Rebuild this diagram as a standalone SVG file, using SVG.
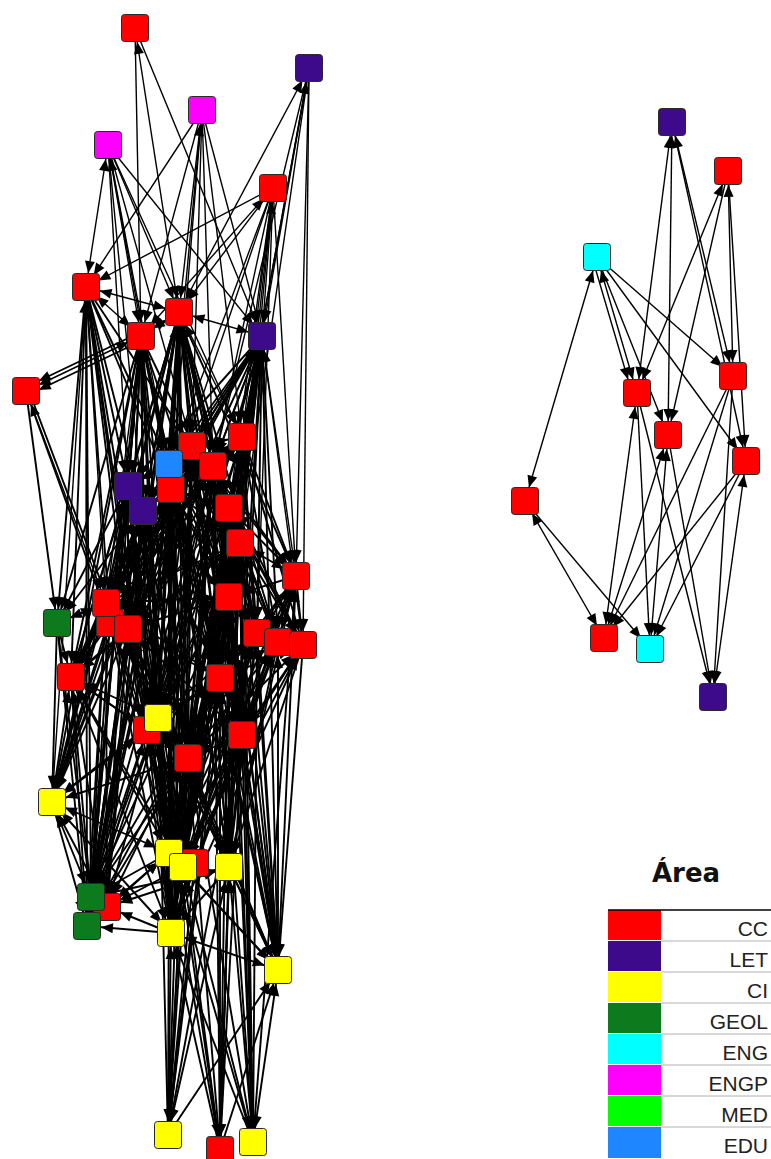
<svg xmlns="http://www.w3.org/2000/svg" xmlns:xlink="http://www.w3.org/1999/xlink" width="771" height="1159" viewBox="0 0 771 1159">
<style>
.cc{fill:#ff0000}.let{fill:#3c0a8a}.ci{fill:#ffff00}.geol{fill:#0e7a1e}.eng{fill:#00ffff}.engp{fill:#ff00ff}.med{fill:#00ff00}.edu{fill:#1e86ff}
#connectors{fill:none;stroke:#000;stroke-width:1.4}
#connectors .core{stroke-width:1.9}
.both path{marker-start:url(#ah);marker-end:url(#ah)}
.one path{marker-end:url(#ah)}
.lbl{font-family:"Liberation Sans",Arial,sans-serif;font-size:21px;fill:#222;text-anchor:end}
</style>
<defs>
<marker id="ah" viewBox="0 -6 28 12" refX="28" refY="0" markerWidth="28" markerHeight="12" markerUnits="userSpaceOnUse" orient="auto-start-reverse"><path d="M2,-5L14,0L2,5Z" fill="#000" stroke="none"/></marker>
<rect id="sq" width="27" height="27" rx="3" stroke="#2a2a2a" stroke-width="1"/>
</defs>
<rect width="771" height="1159" fill="#fff"/>
<g id="connectors">
<g class="both">
<path d="M135 28L179 312"/><path d="M309 68L179 312"/><path d="M309 68L262 336"/><path d="M202 110L179 312"/>
<path d="M108 145L86 287"/><path d="M108 145L141 336"/><path d="M273 188L262 336"/><path d="M273 188L141 336"/>
<path d="M86 287L141 336"/><path d="M86 287L106 603"/><path d="M86 287L52 802"/><path d="M86 287L179 312"/>
<path d="M179 312L262 336"/><path d="M179 312L141 336"/><path d="M179 312L192 446"/><path d="M179 312L169 853"/>
<path d="M179 312L242 437"/><path d="M141 336L26 391"/><path d="M141 336L106 603"/><path d="M262 336L242 437"/>
<path d="M262 336L229 508"/><path d="M262 336L296 576"/><path d="M262 336L303 645"/><path d="M26 391L106 603"/>
<path d="M597 257L525 501"/><path d="M597 257L637 393"/><path d="M672 122L637 393"/><path d="M672 122L668 435"/>
<path d="M672 122L733 376"/><path d="M728 171L637 393"/><path d="M728 171L733 376"/><path d="M637 393L604 638"/>
<path d="M668 435L604 638"/><path d="M668 435L650 649"/><path d="M746 461L713 697"/><path d="M525 501L604 638"/>
</g>
<g class="both core">
<path d="M192 446L128 629"/><path d="M192 446L169 853"/><path d="M242 437L229 597"/><path d="M242 437L278 970"/>
<path d="M169 464L147 730"/><path d="M169 464L91 897"/><path d="M213 466L220 678"/><path d="M213 466L229 867"/>
<path d="M128 486L71 677"/><path d="M128 486L52 802"/><path d="M171 489L188 758"/><path d="M171 489L171 933"/>
<path d="M143 511L71 677"/><path d="M229 508L242 735"/><path d="M229 508L229 867"/><path d="M240 543L278 642"/>
<path d="M240 543L183 867"/><path d="M296 576L278 970"/><path d="M296 576L242 735"/><path d="M106 603L91 897"/>
<path d="M106 603L57 623"/><path d="M128 629L169 853"/><path d="M128 629L87 926"/><path d="M229 597L229 867"/>
<path d="M229 597L188 758"/><path d="M257 633L278 970"/><path d="M278 642L278 970"/><path d="M71 677L52 802"/>
<path d="M220 678L171 933"/><path d="M220 678L229 867"/><path d="M158 718L171 933"/><path d="M242 735L229 867"/>
<path d="M52 802L91 897"/><path d="M171 933L278 970"/><path d="M168 1135L171 933"/><path d="M220 1150L229 867"/>
<path d="M253 1142L278 970"/><path d="M253 1142L183 867"/>
<path d="M242 437L169 853"/><path d="M242 437L183 867"/><path d="M242 437L171 933"/><path d="M242 437L128 629"/>
<path d="M242 437L106 603"/><path d="M242 437L158 718"/><path d="M242 437L147 730"/><path d="M245 437L232 597"/>
<path d="M242 437L171 489"/><path d="M242 437L143 511"/>
<path d="M192 446L242 735"/><path d="M192 446L229 867"/><path d="M192 446L278 970"/><path d="M192 446L257 633"/>
<path d="M192 446L278 642"/><path d="M192 446L303 645"/><path d="M192 446L296 576"/><path d="M192 446L229 508"/>
<path d="M192 446L52 802"/><path d="M192 446L91 897"/><path d="M192 446L87 926"/><path d="M192 446L147 730"/>
<path d="M169 464L220 678"/><path d="M169 464L242 735"/><path d="M169 464L229 867"/><path d="M169 464L171 933"/>
<path d="M169 464L278 970"/><path d="M169 464L229 597"/><path d="M169 464L240 543"/><path d="M169 464L257 633"/>
<path d="M169 464L52 802"/><path d="M169 464L87 926"/><path d="M169 464L158 718"/>
<path d="M213 466L296 576"/><path d="M213 466L303 645"/><path d="M213 466L188 758"/><path d="M213 466L183 867"/>
<path d="M213 466L278 970"/><path d="M213 466L128 629"/><path d="M213 466L106 603"/><path d="M213 466L158 718"/>
<path d="M213 466L147 730"/><path d="M213 466L71 677"/><path d="M213 466L91 897"/>
<path d="M128 486L169 853"/><path d="M128 486L183 867"/><path d="M128 486L171 933"/><path d="M128 486L147 730"/>
<path d="M128 486L188 758"/><path d="M128 486L220 678"/><path d="M128 486L229 597"/><path d="M128 486L110 623"/>
<path d="M171 489L240 543"/><path d="M171 489L242 735"/><path d="M171 489L229 867"/><path d="M171 489L278 970"/>
<path d="M171 489L106 603"/><path d="M171 489L71 677"/><path d="M171 489L52 802"/><path d="M171 489L91 897"/>
<path d="M171 489L87 926"/><path d="M171 489L158 718"/><path d="M171 489L229 508"/>
<path d="M143 511L220 678"/><path d="M143 511L188 758"/><path d="M143 511L169 853"/><path d="M143 511L171 933"/>
<path d="M143 511L229 597"/><path d="M143 511L147 730"/><path d="M143 511L87 926"/><path d="M143 511L57 623"/>
<path d="M146 511L74 677"/>
<path d="M229 508L169 853"/><path d="M229 508L183 867"/><path d="M229 508L171 933"/><path d="M229 508L303 645"/>
<path d="M229 508L106 603"/><path d="M229 508L128 629"/><path d="M229 508L158 718"/><path d="M229 508L147 730"/>
<path d="M240 543L188 758"/><path d="M240 543L169 853"/><path d="M240 543L171 933"/><path d="M240 543L128 629"/>
<path d="M240 543L158 718"/><path d="M240 543L147 730"/><path d="M240 543L71 677"/><path d="M240 543L296 576"/>
<path d="M296 576L188 758"/><path d="M296 576L169 853"/><path d="M296 576L183 867"/><path d="M296 576L171 933"/>
<path d="M299 576L245 735"/>
<path d="M106 603L220 678"/><path d="M106 603L188 758"/><path d="M106 603L183 867"/><path d="M106 603L147 730"/>
<path d="M106 603L107 907"/><path d="M106 603L229 597"/>
<path d="M128 629L147 730"/><path d="M128 629L229 867"/><path d="M128 629L278 970"/><path d="M128 629L107 907"/>
<path d="M128 629L229 597"/><path d="M128 629L242 735"/>
<path d="M229 597L158 718"/><path d="M229 597L147 730"/><path d="M229 597L171 933"/><path d="M229 597L91 897"/>
<path d="M232 597L232 867"/>
<path d="M257 633L188 758"/><path d="M257 633L169 853"/><path d="M257 633L183 867"/><path d="M257 633L171 933"/>
<path d="M257 633L158 718"/>
<path d="M278 642L220 678"/><path d="M278 642L188 758"/><path d="M278 642L169 853"/><path d="M278 642L183 867"/>
<path d="M278 642L171 933"/>
<path d="M303 645L220 678"/><path d="M303 645L188 758"/><path d="M303 645L183 867"/><path d="M303 645L171 933"/>
<path d="M303 645L169 853"/>
<path d="M71 677L147 730"/><path d="M71 677L158 718"/><path d="M71 677L188 758"/><path d="M71 677L183 867"/>
<path d="M71 677L107 907"/>
<path d="M220 678L158 718"/><path d="M220 678L147 730"/><path d="M220 678L91 897"/><path d="M220 678L87 926"/>
<path d="M220 678L107 907"/>
<path d="M147 730L87 926"/><path d="M147 730L171 933"/><path d="M147 730L183 867"/><path d="M147 730L52 802"/>
<path d="M158 718L87 926"/><path d="M158 718L107 907"/><path d="M158 718L229 867"/><path d="M158 718L278 970"/>
<path d="M242 735L169 853"/><path d="M242 735L171 933"/><path d="M242 735L188 758"/>
<path d="M188 758L91 897"/><path d="M188 758L87 926"/><path d="M188 758L278 970"/><path d="M188 758L52 802"/>
<path d="M52 802L107 907"/><path d="M52 802L169 853"/><path d="M52 802L171 933"/>
<path d="M169 853L87 926"/><path d="M169 853L107 907"/><path d="M229 867L107 907"/><path d="M229 867L91 897"/>
<path d="M168 1135L229 867"/><path d="M168 1135L242 735"/><path d="M168 1135L240 543"/><path d="M220 1150L242 735"/>
<path d="M220 1150L158 718"/><path d="M220 1150L213 466"/><path d="M253 1142L188 758"/><path d="M253 1142L229 508"/>
<path d="M253 1142L242 437"/>
<path d="M179 312L171 489"/><path d="M179 312L213 466"/><path d="M179 312L229 508"/><path d="M179 312L143 511"/>
<path d="M262 336L192 446"/><path d="M262 336L213 466"/><path d="M262 336L240 543"/><path d="M262 336L229 597"/>
<path d="M141 336L169 464"/><path d="M141 336L128 486"/><path d="M141 336L143 511"/><path d="M141 336L128 629"/>
</g>
<g class="one">
<path d="M135 28L262 336"/><path d="M202 110L192 446"/><path d="M202 110L86 287"/><path d="M202 110L262 336"/>
<path d="M202 110L213 466"/><path d="M108 145L179 312"/><path d="M108 145L262 336"/><path d="M108 145L242 437"/>
<path d="M108 145L192 446"/><path d="M273 188L86 287"/><path d="M273 188L242 437"/><path d="M273 188L213 466"/>
<path d="M273 188L169 464"/><path d="M273 188L229 508"/><path d="M273 188L179 312"/><path d="M309 68L242 437"/>
<path d="M309 68L296 576"/>
<path d="M273 188L240 543"/><path d="M273 188L296 576"/><path d="M273 188L229 597"/><path d="M273 188L171 489"/>
<path d="M273 188L257 633"/><path d="M309 68L213 466"/><path d="M309 68L229 508"/><path d="M309 68L240 543"/>
<path d="M309 68L303 645"/><path d="M202 110L242 437"/><path d="M202 110L171 489"/><path d="M202 110L169 464"/>
<path d="M202 110L141 336"/><path d="M108 145L169 464"/><path d="M108 145L171 489"/><path d="M108 145L128 486"/>
<path d="M108 145L143 511"/><path d="M135 28L141 336"/>
<path d="M672 122L746 461"/><path d="M728 171L668 435"/><path d="M728 171L746 461"/><path d="M597 257L668 435"/>
<path d="M597 257L733 376"/><path d="M597 257L746 461"/><path d="M592 257L632 393"/><path d="M637 393L650 649"/>
<path d="M637 393L713 697"/><path d="M733 376L604 638"/><path d="M733 376L650 649"/><path d="M733 376L713 697"/>
<path d="M668 435L713 697"/><path d="M746 461L604 638"/><path d="M746 461L650 649"/><path d="M525 501L650 649"/>
</g>
<g class="one core">
<path d="M86 287L57 623"/><path d="M86 287L71 677"/><path d="M86 287L128 486"/><path d="M86 287L128 629"/>
<path d="M86 287L91 897"/><path d="M86 287L143 511"/>
<path d="M86 287L110 623"/><path d="M86 287L87 926"/><path d="M86 287L169 853"/><path d="M86 287L147 730"/>
<path d="M86 287L158 718"/><path d="M86 287L169 464"/><path d="M86 287L171 489"/><path d="M86 287L192 446"/>
<path d="M179 312L169 464"/><path d="M179 312L213 466"/><path d="M179 312L171 489"/><path d="M179 312L229 508"/>
<path d="M179 312L229 597"/><path d="M179 312L220 678"/><path d="M179 312L158 718"/><path d="M179 312L240 543"/>
<path d="M179 312L188 758"/><path d="M179 312L171 933"/><path d="M179 312L106 603"/><path d="M179 312L128 629"/>
<path d="M179 312L143 511"/><path d="M179 312L128 486"/><path d="M179 312L147 730"/><path d="M179 312L183 867"/>
<path d="M179 312L229 867"/><path d="M179 312L242 735"/><path d="M179 312L71 677"/><path d="M179 312L257 633"/>
<path d="M179 312L91 897"/><path d="M179 312L52 802"/><path d="M179 312L278 970"/><path d="M179 312L296 576"/>
<path d="M179 312L278 642"/>
<path d="M141 341L26 396"/><path d="M141 332L26 387"/><path d="M29 391L109 603"/>
<path d="M141 336L128 486"/><path d="M141 336L128 629"/><path d="M141 336L71 677"/>
<path d="M141 336L143 511"/><path d="M141 336L52 802"/><path d="M141 336L147 730"/><path d="M141 336L91 897"/>
<path d="M141 336L87 926"/><path d="M141 336L169 464"/><path d="M141 336L171 489"/><path d="M141 336L57 623"/>
<path d="M141 336L158 718"/><path d="M141 336L169 853"/><path d="M141 336L188 758"/><path d="M141 336L110 623"/>
<path d="M141 336L183 867"/><path d="M141 336L171 933"/><path d="M141 336L220 678"/><path d="M141 336L229 597"/>
<path d="M141 336L240 543"/>
<path d="M262 336L213 466"/><path d="M262 336L240 543"/><path d="M262 336L229 597"/><path d="M262 336L257 633"/>
<path d="M262 336L278 642"/><path d="M262 336L242 735"/><path d="M262 336L229 867"/><path d="M262 336L278 970"/>
<path d="M262 336L171 489"/><path d="M262 336L192 446"/><path d="M262 336L220 678"/><path d="M262 336L169 464"/>
<path d="M262 336L188 758"/><path d="M262 336L169 853"/><path d="M262 336L183 867"/><path d="M262 336L171 933"/>
<path d="M262 336L106 603"/><path d="M262 336L128 629"/><path d="M262 336L158 718"/><path d="M262 336L147 730"/>
<path d="M262 336L143 511"/><path d="M262 336L128 486"/><path d="M262 336L71 677"/>
<path d="M26 391L110 623"/><path d="M26 391L57 623"/>
<path d="M192 446L171 489"/><path d="M192 446L220 678"/><path d="M192 446L188 758"/><path d="M192 446L183 867"/>
<path d="M192 446L106 603"/><path d="M192 446L71 677"/><path d="M192 446L171 933"/><path d="M192 446L242 437"/>
<path d="M192 446L229 597"/><path d="M192 446L240 543"/><path d="M192 446L158 718"/>
<path d="M242 437L229 508"/><path d="M242 437L296 576"/><path d="M242 437L257 633"/><path d="M242 437L303 645"/>
<path d="M242 437L242 735"/><path d="M242 437L229 867"/><path d="M242 437L220 678"/><path d="M242 437L213 466"/>
<path d="M242 437L240 543"/><path d="M242 437L278 642"/><path d="M242 437L188 758"/>
<path d="M169 464L143 511"/><path d="M169 464L128 629"/><path d="M169 464L188 758"/><path d="M169 464L183 867"/>
<path d="M169 464L71 677"/><path d="M169 464L128 486"/><path d="M169 464L106 603"/><path d="M169 464L169 853"/>
<path d="M213 466L240 543"/><path d="M213 466L229 597"/><path d="M213 466L278 642"/><path d="M213 466L169 853"/>
<path d="M213 466L171 933"/><path d="M213 466L110 623"/><path d="M213 466L229 508"/><path d="M213 466L171 489"/>
<path d="M213 466L257 633"/><path d="M213 466L242 735"/>
<path d="M128 486L106 603"/><path d="M128 486L57 623"/><path d="M128 486L91 897"/><path d="M128 486L87 926"/>
<path d="M128 486L158 718"/><path d="M128 486L128 629"/><path d="M128 486L107 907"/>
<path d="M171 489L128 629"/><path d="M171 489L147 730"/><path d="M171 489L169 853"/><path d="M171 489L220 678"/>
<path d="M171 489L257 633"/><path d="M171 489L143 511"/><path d="M171 489L229 597"/><path d="M171 489L183 867"/>
<path d="M143 511L110 623"/><path d="M143 511L52 802"/><path d="M143 511L107 907"/><path d="M143 511L158 718"/>
<path d="M143 511L183 867"/><path d="M143 511L106 603"/><path d="M143 511L128 629"/><path d="M143 511L91 897"/>
<path d="M229 508L229 597"/><path d="M229 508L257 633"/><path d="M229 508L220 678"/><path d="M229 508L278 970"/>
<path d="M229 508L188 758"/><path d="M229 508L240 543"/><path d="M229 508L296 576"/><path d="M229 508L278 642"/>
<path d="M240 543L257 633"/><path d="M240 543L220 678"/><path d="M240 543L242 735"/><path d="M240 543L278 970"/>
<path d="M240 543L106 603"/><path d="M240 543L229 597"/><path d="M240 543L303 645"/><path d="M240 543L229 867"/>
<path d="M296 576L278 642"/><path d="M296 576L303 645"/><path d="M296 576L229 867"/><path d="M296 576L229 597"/>
<path d="M296 576L257 633"/><path d="M296 576L220 678"/>
<path d="M106 603L71 677"/><path d="M106 603L52 802"/><path d="M106 603L87 926"/><path d="M106 603L169 853"/>
<path d="M106 603L171 933"/><path d="M106 603L128 629"/><path d="M106 603L158 718"/>
<path d="M110 623L52 802"/><path d="M110 623L91 897"/><path d="M110 623L71 677"/>
<path d="M128 629L71 677"/><path d="M128 629L158 718"/><path d="M128 629L91 897"/><path d="M128 629L171 933"/>
<path d="M128 629L220 678"/><path d="M128 629L52 802"/><path d="M128 629L188 758"/><path d="M128 629L183 867"/>
<path d="M229 597L220 678"/><path d="M229 597L242 735"/><path d="M229 597L278 970"/><path d="M229 597L169 853"/>
<path d="M229 597L257 633"/><path d="M229 597L183 867"/>
<path d="M57 623L71 677"/><path d="M57 623L52 802"/><path d="M57 623L91 897"/><path d="M57 623L87 926"/>
<path d="M257 633L242 735"/><path d="M257 633L229 867"/><path d="M257 633L220 678"/>
<path d="M278 642L242 735"/><path d="M278 642L229 867"/>
<path d="M303 645L278 970"/><path d="M303 645L242 735"/><path d="M303 645L229 867"/>
<path d="M71 677L91 897"/><path d="M71 677L87 926"/><path d="M71 677L169 853"/><path d="M71 677L171 933"/>
<path d="M220 678L188 758"/><path d="M220 678L183 867"/><path d="M220 678L278 970"/><path d="M220 678L242 735"/>
<path d="M220 678L169 853"/>
<path d="M147 730L91 897"/><path d="M147 730L169 853"/>
<path d="M158 718L169 853"/><path d="M158 718L91 897"/><path d="M158 718L52 802"/><path d="M158 718L188 758"/>
<path d="M158 718L183 867"/>
<path d="M242 735L278 970"/><path d="M242 735L183 867"/>
<path d="M188 758L183 867"/><path d="M188 758L171 933"/><path d="M188 758L229 867"/><path d="M188 758L169 853"/>
<path d="M52 802L87 926"/>
<path d="M169 853L91 897"/><path d="M169 853L278 970"/><path d="M169 853L171 933"/>
<path d="M183 867L107 907"/><path d="M183 867L278 970"/><path d="M183 867L171 933"/>
<path d="M229 867L278 970"/><path d="M229 867L171 933"/>
<path d="M171 933L87 926"/><path d="M171 933L107 907"/>
<path d="M168 1135L169 853"/><path d="M168 1135L183 867"/><path d="M168 1135L220 678"/><path d="M168 1135L188 758"/>
<path d="M168 1135L278 970"/><path d="M168 1135L229 597"/><path d="M168 1135L229 508"/><path d="M168 1135L158 718"/>
<path d="M168 1135L213 466"/><path d="M168 1135L192 446"/>
<path d="M220 1150L171 933"/><path d="M220 1150L169 853"/><path d="M220 1150L220 678"/><path d="M220 1150L188 758"/>
<path d="M220 1150L229 597"/><path d="M220 1150L183 867"/><path d="M220 1150L240 543"/><path d="M220 1150L242 437"/>
<path d="M220 1150L278 970"/>
<path d="M253 1142L171 933"/><path d="M253 1142L229 867"/><path d="M253 1142L242 735"/><path d="M253 1142L220 678"/>
<path d="M253 1142L240 543"/><path d="M253 1142L169 853"/><path d="M253 1142L257 633"/><path d="M253 1142L229 597"/>
<path d="M253 1142L296 576"/>
</g>
</g>
<g id="nodes">
<g id="n22"><use xlink:href="#sq" class="cc" x="96.5" y="609.5"/></g>
<g id="n31"><use xlink:href="#sq" class="cc" x="133.5" y="716.5"/></g>
<g id="n37"><use xlink:href="#sq" class="cc" x="181.5" y="849.5"/></g>
<g id="n41"><use xlink:href="#sq" class="cc" x="93.5" y="893.5"/></g>
<g id="n1"><use xlink:href="#sq" class="cc" x="121.5" y="14.5"/></g>
<g id="n2"><use xlink:href="#sq" class="let" x="295.5" y="54.5"/></g>
<g id="n3"><use xlink:href="#sq" class="engp" x="188.5" y="96.5"/></g>
<g id="n4"><use xlink:href="#sq" class="engp" x="94.5" y="131.5"/></g>
<g id="n5"><use xlink:href="#sq" class="cc" x="259.5" y="174.5"/></g>
<g id="n6"><use xlink:href="#sq" class="cc" x="72.5" y="273.5"/></g>
<g id="n7"><use xlink:href="#sq" class="cc" x="165.5" y="298.5"/></g>
<g id="n8"><use xlink:href="#sq" class="cc" x="127.5" y="322.5"/></g>
<g id="n9"><use xlink:href="#sq" class="let" x="248.5" y="322.5"/></g>
<g id="n10"><use xlink:href="#sq" class="cc" x="12.5" y="377.5"/></g>
<g id="n11"><use xlink:href="#sq" class="cc" x="178.5" y="432.5"/></g>
<g id="n12"><use xlink:href="#sq" class="cc" x="228.5" y="423.5"/></g>
<g id="n16"><use xlink:href="#sq" class="cc" x="157.5" y="475.5"/></g>
<g id="n13"><use xlink:href="#sq" class="edu" x="155.5" y="450.5"/></g>
<g id="n14"><use xlink:href="#sq" class="cc" x="199.5" y="452.5"/></g>
<g id="n15"><use xlink:href="#sq" class="let" x="114.5" y="472.5"/></g>
<g id="n17"><use xlink:href="#sq" class="let" x="129.5" y="497.5"/></g>
<g id="n18"><use xlink:href="#sq" class="cc" x="215.5" y="494.5"/></g>
<g id="n19"><use xlink:href="#sq" class="cc" x="226.5" y="529.5"/></g>
<g id="n20"><use xlink:href="#sq" class="cc" x="282.5" y="562.5"/></g>
<g id="n21"><use xlink:href="#sq" class="cc" x="92.5" y="589.5"/></g>
<g id="n23"><use xlink:href="#sq" class="cc" x="114.5" y="615.5"/></g>
<g id="n24"><use xlink:href="#sq" class="cc" x="215.5" y="583.5"/></g>
<g id="n25"><use xlink:href="#sq" class="geol" x="43.5" y="609.5"/></g>
<g id="n26"><use xlink:href="#sq" class="cc" x="243.5" y="619.5"/></g>
<g id="n27"><use xlink:href="#sq" class="cc" x="264.5" y="628.5"/></g>
<g id="n28"><use xlink:href="#sq" class="cc" x="289.5" y="631.5"/></g>
<g id="n29"><use xlink:href="#sq" class="cc" x="57.5" y="663.5"/></g>
<g id="n30"><use xlink:href="#sq" class="cc" x="206.5" y="664.5"/></g>
<g id="n32"><use xlink:href="#sq" class="ci" x="144.5" y="704.5"/></g>
<g id="n33"><use xlink:href="#sq" class="cc" x="228.5" y="721.5"/></g>
<g id="n34"><use xlink:href="#sq" class="cc" x="174.5" y="744.5"/></g>
<g id="n35"><use xlink:href="#sq" class="ci" x="38.5" y="788.5"/></g>
<g id="n36"><use xlink:href="#sq" class="ci" x="155.5" y="839.5"/></g>
<g id="n38"><use xlink:href="#sq" class="ci" x="169.5" y="853.5"/></g>
<g id="n39"><use xlink:href="#sq" class="ci" x="215.5" y="853.5"/></g>
<g id="n40"><use xlink:href="#sq" class="geol" x="77.5" y="883.5"/></g>
<g id="n42"><use xlink:href="#sq" class="geol" x="73.5" y="912.5"/></g>
<g id="n43"><use xlink:href="#sq" class="ci" x="157.5" y="919.5"/></g>
<g id="n44"><use xlink:href="#sq" class="ci" x="264.5" y="956.5"/></g>
<g id="n45"><use xlink:href="#sq" class="ci" x="154.5" y="1121.5"/></g>
<g id="n46"><use xlink:href="#sq" class="cc" x="206.5" y="1136.5"/></g>
<g id="n47"><use xlink:href="#sq" class="ci" x="239.5" y="1128.5"/></g>
<g id="r1"><use xlink:href="#sq" class="let" x="658.5" y="108.5"/></g>
<g id="r2"><use xlink:href="#sq" class="cc" x="714.5" y="157.5"/></g>
<g id="r3"><use xlink:href="#sq" class="eng" x="583.5" y="243.5"/></g>
<g id="r4"><use xlink:href="#sq" class="cc" x="623.5" y="379.5"/></g>
<g id="r5"><use xlink:href="#sq" class="cc" x="719.5" y="362.5"/></g>
<g id="r6"><use xlink:href="#sq" class="cc" x="654.5" y="421.5"/></g>
<g id="r7"><use xlink:href="#sq" class="cc" x="732.5" y="447.5"/></g>
<g id="r8"><use xlink:href="#sq" class="cc" x="511.5" y="487.5"/></g>
<g id="r9"><use xlink:href="#sq" class="cc" x="590.5" y="624.5"/></g>
<g id="r10"><use xlink:href="#sq" class="eng" x="636.5" y="635.5"/></g>
<g id="r11"><use xlink:href="#sq" class="let" x="699.5" y="683.5"/></g>
</g>
<g id="legend">
<text x="686" y="882" text-anchor="middle" font-family="'DejaVu Sans',sans-serif" font-weight="bold" font-size="26" fill="#111">Área</text>
<g stroke="#b0b0b0" stroke-width="1">
<line x1="661" y1="941" x2="771" y2="941"/><line x1="661" y1="972" x2="771" y2="972"/><line x1="661" y1="1003" x2="771" y2="1003"/>
<line x1="661" y1="1034" x2="771" y2="1034"/><line x1="661" y1="1065" x2="771" y2="1065"/><line x1="661" y1="1096" x2="771" y2="1096"/>
<line x1="661" y1="1127" x2="771" y2="1127"/>
</g>
<rect class="cc" x="608" y="910" width="53" height="30"/>
<rect class="let" x="608" y="941" width="53" height="30"/>
<rect class="ci" x="608" y="972" width="53" height="30"/>
<rect class="geol" x="608" y="1003" width="53" height="30"/>
<rect class="eng" x="608" y="1034" width="53" height="30"/>
<rect class="engp" x="608" y="1065" width="53" height="30"/>
<rect class="med" x="608" y="1096" width="53" height="30"/>
<rect class="edu" x="608" y="1127" width="53" height="31"/>
<line x1="608" y1="910" x2="771" y2="910" stroke="#000" stroke-width="1.5"/>
<text class="lbl" x="768" y="935.5">CC</text>
<text class="lbl" x="768" y="966.5">LET</text>
<text class="lbl" x="768" y="997.5">CI</text>
<text class="lbl" x="768" y="1028.5">GEOL</text>
<text class="lbl" x="768" y="1059.5">ENG</text>
<text class="lbl" x="768" y="1090.5">ENGP</text>
<text class="lbl" x="768" y="1121.5">MED</text>
<text class="lbl" x="768" y="1152.5">EDU</text>
</g>
</svg>
